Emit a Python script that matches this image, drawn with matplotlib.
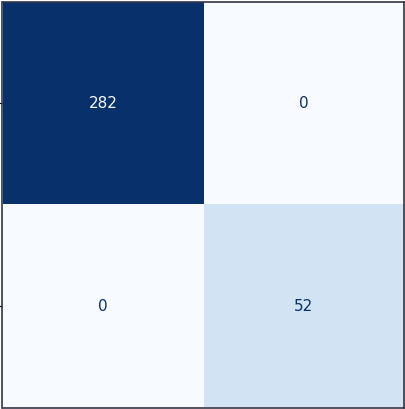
import numpy as np
import matplotlib
matplotlib.use("Agg")
import matplotlib.pyplot as plt

labels = ["0", "1"]
matrix = np.array([[282, 0],
                   [0, 52]])

W, H = 406, 409
fig = plt.figure(figsize=(W / 100, H / 100), dpi=100)
ax = fig.add_axes([2.5 / W, 1.5 / H, 401.5 / W, 405.5 / H])
cmap = plt.get_cmap("Blues")
ax.imshow(matrix, cmap=cmap, aspect="auto", interpolation="nearest",
          vmin=matrix.min(), vmax=matrix.max())
thresh = (matrix.max() + matrix.min()) / 2
for i in range(matrix.shape[0]):
    for j in range(matrix.shape[1]):
        v = matrix[i, j]
        color = cmap(0.0) if v > thresh else cmap(1.0)
        ax.text(j, i, str(v), ha="center", va="center", color=color, fontsize=11)
ax.set_xticks(range(len(labels)))
ax.set_yticks(range(len(labels)))
ax.set_xticklabels([])
ax.set_yticklabels([])
ax.tick_params(axis="x", length=0)
for s in ax.spines.values():
    s.set_linewidth(1.2)
    s.set_color("#333344")
fig.savefig("out.png", dpi=100)
